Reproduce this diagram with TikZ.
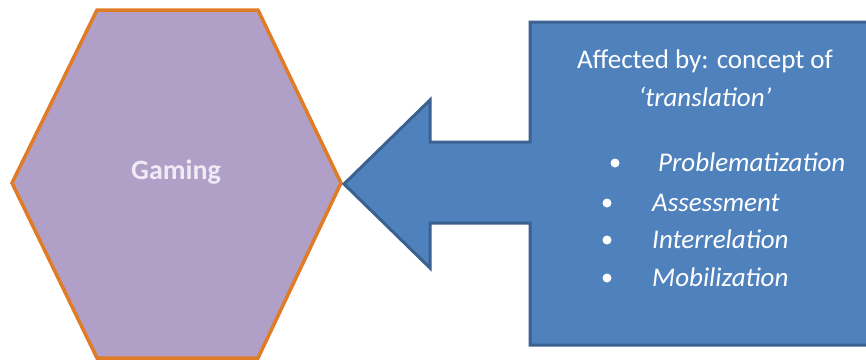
\documentclass[tikz,border=0pt]{standalone}
\usepackage{fontspec}
\setmainfont{Carlito}
\definecolor{hexfill}{HTML}{B09FC7}
\definecolor{hexedge}{HTML}{E07B26}
\definecolor{boxfill}{HTML}{4F81BD}
\definecolor{boxedge}{HTML}{3A6190}
\definecolor{gamtext}{HTML}{F0EAF4}
\tikzset{
  txt/.style={text=white, inner sep=0pt, font=\fontsize{27}{32}\selectfont},
  itm/.style={txt, anchor=mid west, font=\fontsize{27}{32}\selectfont\itshape},
  bul/.style={circle, fill=white, inner sep=0pt, minimum size=9pt}
}
\begin{document}
\begin{tikzpicture}[x=1pt,y=-1pt]
\useasboundingbox (0,0) rectangle (866,362);
% hexagon
\draw[fill=hexfill, draw=hexedge, line width=3.5pt, line join=miter]
  (12,183) -- (97,10) -- (258,10) -- (341,183) -- (258,358) -- (97,358) -- cycle;
\node[txt, text=gamtext, font=\fontsize{28}{32}\selectfont\bfseries] (gaming) at (176,172) {Gaming};
% callout arrow box
\draw[fill=boxfill, draw=boxedge, line width=3pt, line join=miter]
  (530,22) -- (872,22) -- (872,345) -- (530,345) -- (530,223) -- (430,223)
  -- (430,268) -- (344,184) -- (430,100) -- (430,142) -- (530,142) -- cycle;
\node[txt, anchor=mid] (t1) at (705,66) {Affected by: concept of};
\node[txt, anchor=mid] (t2) at (705,104) {\itshape `translation'};
\node[bul] (b1) at (615,163) {};
\node[itm] (i1) at (658,169) {Problematization};
\node[bul] (b2) at (607,203) {};
\node[itm] (i2) at (652,209) {Assessment};
\node[bul] (b3) at (607,240) {};
\node[itm] (i3) at (652,246) {Interrelation};
\node[bul] (b4) at (607,278) {};
\node[itm] (i4) at (652,284) {Mobilization};
\end{tikzpicture}
\end{document}
